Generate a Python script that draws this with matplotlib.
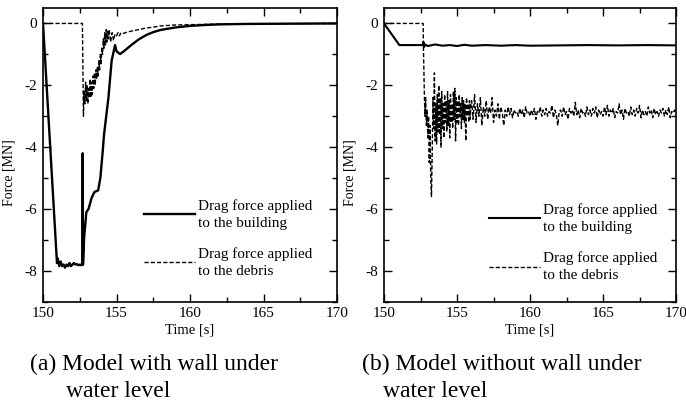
import numpy as np
import matplotlib
matplotlib.use("Agg")
import matplotlib.pyplot as plt
from matplotlib.ticker import MultipleLocator

plt.rcParams["font.family"] = ["Liberation Serif", "DejaVu Serif"]
plt.rcParams["axes.unicode_minus"] = False

# ---- (a) model with wall under water level ----
a_build_t = [150.0, 150.95, 151.0, 151.1, 151.2, 151.3, 151.4, 151.5, 151.6, 151.7,
             151.8, 151.9, 152.0, 152.1, 152.2, 152.3, 152.4, 152.5, 152.6, 152.68,
             152.7, 152.72, 152.8, 152.95, 153.1, 153.3, 153.5, 153.75, 153.9, 154.05,
             154.15, 154.3, 154.45, 154.67, 154.9, 155.0, 155.24, 155.5, 156.0, 156.5,
             157.0, 157.5, 158.0, 159.0, 160.0, 161.0, 162.0, 164.0, 166.0, 170.0]
a_build_f = [0.0, -7.75, -7.6, -7.85, -7.7, -7.85, -7.8, -7.9, -7.8, -7.85,
             -7.75, -7.85, -7.8, -7.75, -7.8, -7.78, -7.82, -7.8, -7.82, -7.8,
             -4.2, -7.8, -6.9, -6.1, -6.0, -5.65, -5.45, -5.4, -5.0, -4.2,
             -3.6, -3.0, -2.4, -1.2, -0.7, -0.9, -0.99, -0.9, -0.7, -0.52,
             -0.38, -0.28, -0.21, -0.13, -0.08, -0.05, -0.03, -0.015, -0.01, 0.0]

a_debris_t = [150.0, 152.68, 152.75, 152.8, 152.85, 152.9, 152.95, 153.0, 153.05, 153.1,
              153.15, 153.2, 153.25, 153.3, 153.35, 153.4, 153.45, 153.5, 153.55, 153.6,
              153.65, 153.7, 153.75, 153.8, 153.85, 153.9, 153.95, 154.0, 154.05, 154.1,
              154.15, 154.2, 154.25, 154.3, 154.35, 154.4, 154.45, 154.5, 154.6, 154.7,
              154.8, 154.9, 155.0, 155.1, 155.2, 155.3, 155.5, 155.7, 156.0, 156.5,
              157.0, 157.5, 158.0, 159.0, 160.0, 162.0, 165.0, 170.0]
a_debris_f = [0.0, 0.0, -3.0, -2.2, -2.6, -1.9, -2.5, -2.0, -2.6, -2.1,
              -2.4, -1.8, -2.4, -1.9, -2.3, -1.7, -2.1, -1.6, -2.0, -1.5,
              -1.8, -1.4, -1.7, -1.2, -1.5, -1.0, -1.3, -0.8, -1.0, -0.5,
              -0.8, -0.3, -0.7, -0.2, -0.6, -0.25, -0.5, -0.2, -0.6, -0.3,
              -0.55, -0.35, -0.4, -0.3, -0.4, -0.3, -0.32, -0.28, -0.25, -0.2,
              -0.15, -0.12, -0.08, -0.05, -0.04, -0.02, -0.01, 0.0]

# ---- (b) model without wall under water level ----
b_build_t = [150.0, 151.05, 152.68, 152.7, 152.75, 152.8, 153.0, 153.5, 154.0, 154.5,
             155.0, 155.5, 156.0, 157.0, 158.0, 159.0, 160.0, 162.0, 164.0, 166.0,
             168.0, 170.0]
b_build_f = [0.0, -0.7, -0.7, -0.6, -0.76, -0.68, -0.73, -0.68, -0.72, -0.7,
             -0.73, -0.69, -0.72, -0.7, -0.72, -0.7, -0.72, -0.71, -0.7, -0.71,
             -0.7, -0.71]

# debris force: flat part, then samples every 0.05 s (152.70-155.95), then every 0.1 s (156.0-170.0)
b_debris_flat_t = [150.0, 152.68]
b_debris_flat_f = [0.0, 0.0]
b_debris_fast_start, b_debris_fast_dt = 152.70, 0.05
b_debris_fast_f = [-0.8, -2.0, -3.0, -2.4, -3.3, -2.8, -3.7, -3.0, -4.5, -3.3,
                   -5.0, -5.6, -4.2, -2.4, -3.4, -1.6, -3.8, -2.6, -3.9, -2.3,
                   -3.5, -2.0, -3.6, -2.4, -4.0, -2.2, -3.4, -2.6, -3.7, -2.3,
                   -3.2, -2.5, -3.5, -2.2, -3.3, -2.5, -3.7, -2.3, -3.2, -2.6,
                   -3.4, -2.2, -3.1, -2.1, -3.8, -2.4, -3.2, -2.5, -3.3, -2.3,
                   -3.0, -2.6, -3.4, -2.4, -3.1, -2.5, -3.2, -2.6, -3.8, -2.4,
                   -3.0, -2.6, -3.2, -2.5, -3.1, -2.6]
b_debris_slow_start, b_debris_slow_dt = 156.0, 0.1
b_debris_slow_f = [-2.5, -3.1, -2.3, -3.2, -2.6, -3.0, -2.4, -3.3, -2.7, -3.0,
                   -2.5, -3.1, -2.7, -2.9, -2.4, -3.2, -2.8, -3.0, -2.6, -3.1, -2.7,
                   -2.9, -3.3, -2.8, -3.0, -2.7, -2.95, -2.75, -3.05, -2.8, -2.9,
                   -2.85, -3.0, -2.75, -2.95, -2.8, -3.05, -2.7, -2.9, -2.85, -3.0,
                   -2.8, -2.95, -2.75, -3.1, -2.85, -2.9, -2.7, -3.0, -2.8, -2.95,
                   -2.75, -3.0, -2.85, -2.9, -2.65, -3.05, -2.8, -2.95, -3.3, -2.85,
                   -2.8, -3.0, -2.7, -2.95, -2.85, -3.1, -2.75, -2.9, -2.8, -3.0,
                   -2.55, -2.95, -2.8, -3.05, -2.75, -2.9, -2.85, -3.0, -2.7, -2.95,
                   -2.8, -3.0, -2.75, -2.9, -2.7, -3.05, -2.8, -2.95, -2.85, -3.0,
                   -2.7, -2.95, -2.65, -3.0, -2.8, -2.9, -2.75, -3.05, -2.85, -2.9,
                   -2.6, -2.95, -2.8, -3.1, -2.75, -2.9, -2.85, -3.0, -2.7, -2.95,
                   -2.8, -3.0, -2.75, -2.9, -2.65, -3.05, -2.8, -2.95, -2.85, -3.0,
                   -2.7, -2.9, -2.8, -3.05, -2.75, -2.95, -2.85, -3.0, -2.8, -2.9,
                   -2.75, -3.0, -2.8, -2.95, -2.7, -3.05, -2.85, -2.9, -2.8, -2.95]

b_fast_t = b_debris_fast_start + b_debris_fast_dt * np.arange(len(b_debris_fast_f))
b_slow_t = b_debris_slow_start + b_debris_slow_dt * np.arange(len(b_debris_slow_f))
b_debris_t = np.concatenate([b_debris_flat_t, b_fast_t, b_slow_t])
b_debris_f = np.concatenate([b_debris_flat_f, b_debris_fast_f, b_debris_slow_f])

labels = ["Drag force applied\nto the building", "Drag force applied\nto the debris"]
captions = [["(a) Model with wall under", "water level"],
            ["(b) Model without wall under", "water level"]]

fig = plt.figure(figsize=(6.86, 4.03), dpi=100)
ax1 = fig.add_axes([0.0627, 0.2514, 0.4286, 0.7288])
ax2 = fig.add_axes([0.5598, 0.2514, 0.4257, 0.7288])

dash = (0, (3.0, 1.5))
ax1.plot(a_build_t, a_build_f, color="black", lw=1.7, label=labels[0])
ax1.plot(a_debris_t, a_debris_f, color="black", lw=1.0, ls=dash, label=labels[1])
ax2.plot(b_build_t, b_build_f, color="black", lw=1.5, label=labels[0])
ax2.plot(b_debris_t, b_debris_f, color="black", lw=1.0, ls=dash, label=labels[1])

for ax in (ax1, ax2):
    ax.set_xlim(150, 170)
    ax.set_ylim(-9, 0.5)
    ax.xaxis.set_major_locator(MultipleLocator(5))
    ax.xaxis.set_minor_locator(MultipleLocator(2.5))
    ax.yaxis.set_major_locator(MultipleLocator(2))
    ax.yaxis.set_minor_locator(MultipleLocator(1))
    ax.tick_params(which="both", direction="in", top=True, right=True, labelsize=11, width=1.0)
    ax.tick_params(which="major", length=6, pad=4)
    ax.tick_params(which="minor", length=3.5)
    for s in ax.spines.values():
        s.set_linewidth(1.2)
    ax.set_xlabel("Time [s]", fontsize=10.5, labelpad=2)
    ax.set_ylabel("Force [MN]", fontsize=10)
    ax.yaxis.set_label_coords(-0.095, 0.44)

for ax, anchor in ((ax1, (0.345, 0.35)), (ax2, (0.36, 0.335))):
    leg = ax.legend(loc="upper left", bbox_to_anchor=anchor, frameon=False, fontsize=11,
                    handlelength=3.3, handletextpad=0.2, labelspacing=1.15,
                    borderpad=0, borderaxespad=0)
    for t in leg.get_texts():
        t.set_linespacing(1.4)

fig.text(30 / 686, 1 - 370 / 403, captions[0][0], fontsize=17, va="baseline")
fig.text(66 / 686, 1 - 397 / 403, captions[0][1], fontsize=17, va="baseline")
fig.text(362 / 686, 1 - 370 / 403, captions[1][0], fontsize=17, va="baseline")
fig.text(383 / 686, 1 - 397 / 403, captions[1][1], fontsize=17, va="baseline")

fig.savefig("out.png", dpi=100)
